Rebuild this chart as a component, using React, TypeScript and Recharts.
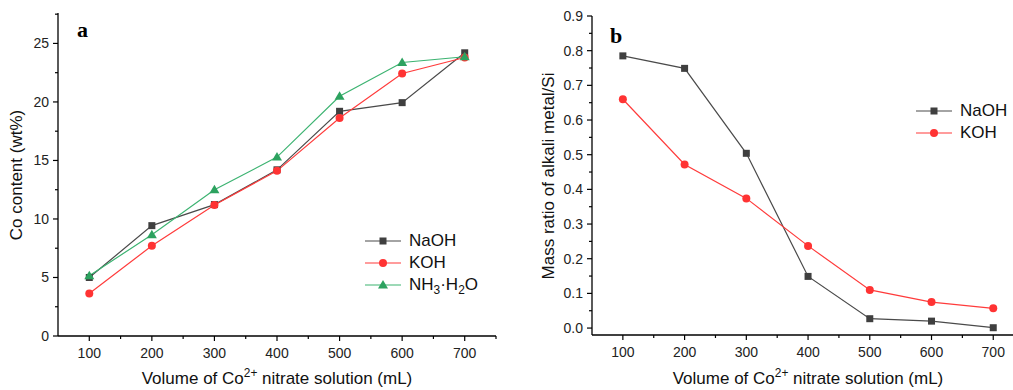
import React from 'react';
import { LineChart, Line, XAxis, YAxis, Legend } from 'recharts';

// values
const volumes = [100, 200, 300, 400, 500, 600, 700];
const coNaOH = [5.0, 9.43, 11.23, 14.2, 19.2, 19.94, 24.2];
const coKOH = [3.63, 7.71, 11.2, 14.11, 18.63, 22.43, 23.8];
const coNH3 = [5.14, 8.66, 12.49, 15.29, 20.49, 23.37, 23.86];
const ratioNaOH = [0.785, 0.749, 0.504, 0.149, 0.027, 0.02, 0.001];
const ratioKOH = [0.66, 0.472, 0.374, 0.237, 0.11, 0.075, 0.057];

const xMajor = [100, 200, 300, 400, 500, 600, 700];
const xMinor = [150, 250, 350, 450, 550, 650, 750];
const coMajor = [0, 5, 10, 15, 20, 25];
const coMinor = [2.5, 7.5, 12.5, 17.5, 22.5, 27.5];
const ratioMajor = [0, 0.1, 0.2, 0.3, 0.4, 0.5, 0.6, 0.7, 0.8, 0.9];
const ratioMinor = [0.05, 0.15, 0.25, 0.35, 0.45, 0.55, 0.65, 0.75, 0.85];

const FONT = '"Liberation Sans", Arial, sans-serif';

const seriesStyle: any = {
  NaOH: { line: '#4a4a4a', fill: '#3f3f3f', shape: 'square' },
  KOH: { line: '#ff3b3b', fill: '#ff3333', shape: 'circle' },
  NH3: { line: '#3cb371', fill: '#2ca25f', shape: 'triangle' },
};

const coData = volumes.map((v, i) => ({ volume: v, NaOH: coNaOH[i], KOH: coKOH[i], NH3: coNH3[i] }));
const ratioData = volumes.map((v, i) => ({ volume: v, NaOH: ratioNaOH[i], KOH: ratioKOH[i] }));

function Marker({ cx, cy, shape, fill }: any) {
  if (cx == null || cy == null) return null;
  if (shape === 'square') return <rect x={cx - 3.5} y={cy - 3.5} width={7} height={7} fill={fill} />;
  if (shape === 'circle') return <circle cx={cx} cy={cy} r={4} fill={fill} />;
  return <polygon points={`${cx},${cy - 5} ${cx + 5},${cy + 3.5} ${cx - 5},${cy + 3.5}`} fill={fill} />;
}

// bottom axis tick: long tick + label for majors, short tick for minors
function XTick({ x, y, payload }: any) {
  const major = xMajor.includes(payload.value);
  return (
    <g>
      <line x1={x} y1={y} x2={x} y2={y + (major ? 5 : 3)} stroke="#000" strokeWidth={1.2} />
      {major && (
        <text x={x} y={y + 22} textAnchor="middle" fontSize={14} fontFamily={FONT} fill="#222">
          {payload.value}
        </text>
      )}
    </g>
  );
}

function makeYTick(majors: number[], fmt: (v: number) => string) {
  return function YTick({ x, y, payload }: any) {
    const major = majors.includes(payload.value);
    return (
      <g>
        <line x1={x} y1={y} x2={x - (major ? 5 : 3)} y2={y} stroke="#000" strokeWidth={1.2} />
        {major && (
          <text x={x - 9} y={y + 5} textAnchor="end" fontSize={14} fontFamily={FONT} fill="#222">
            {fmt(payload.value)}
          </text>
        )}
      </g>
    );
  };
}

const CoTick = makeYTick(coMajor, (v) => String(v));
const RatioTick = makeYTick(ratioMajor, (v) => v.toFixed(1));

function LegendBox({ keys }: any) {
  const label = (k: string) =>
    k === 'NH3' ? (
      <span>NH<sub style={{ fontSize: '0.7em', lineHeight: 0 }}>3</sub>·H<sub style={{ fontSize: '0.7em', lineHeight: 0 }}>2</sub>O</span>
    ) : (
      k
    );
  return (
    <div style={{ fontFamily: FONT, fontSize: 17, color: '#111' }}>
      {keys.map((k: string) => {
        const s = seriesStyle[k];
        return (
          <div key={k} style={{ display: 'flex', alignItems: 'center', height: 22 }}>
            <svg width={38} height={14} style={{ marginRight: 6 }}>
              <line x1={0} y1={7} x2={36} y2={7} stroke={s.line} strokeWidth={1.2} />
              <Marker cx={18} cy={7} shape={s.shape} fill={s.fill} />
            </svg>
            {label(k)}
          </div>
        );
      })}
    </div>
  );
}

function seriesLine(k: string) {
  const s = seriesStyle[k];
  return (
    <Line
      key={k}
      type="linear"
      dataKey={k}
      stroke={s.line}
      strokeWidth={1.2}
      dot={(p: any) => <Marker key={`${k}-${p.index}`} cx={p.cx} cy={p.cy} shape={s.shape} fill={s.fill} />}
      activeDot={false}
      isAnimationActive={false}
    />
  );
}

const sup = { fontSize: '0.7em', verticalAlign: 'super', lineHeight: 0 } as any;

function XTitle({ center }: any) {
  return (
    <div style={{ position: 'absolute', left: center - 250, width: 500, top: 368, textAlign: 'center', fontFamily: FONT, fontSize: 17, lineHeight: '22px', color: '#111' }}>
      Volume of Co<span style={sup}>2+</span> nitrate solution (mL)
    </div>
  );
}

function YTitle({ cx, cy, text }: any) {
  return (
    <div style={{ position: 'absolute', left: cx - 150, top: cy - 11, width: 300, height: 22, lineHeight: '22px', textAlign: 'center', transform: 'rotate(-90deg)', fontFamily: FONT, fontSize: 17, color: '#111', whiteSpace: 'nowrap' }}>
      {text}
    </div>
  );
}

const panelLetter = { position: 'absolute', fontFamily: '"Liberation Serif", serif', fontWeight: 700, fontSize: 22, lineHeight: '22px', color: '#000' } as any;

export default function App() {
  return (
    <div style={{ position: 'absolute', left: 0, top: 0, width: 1013, height: 390, background: '#fff', overflow: 'hidden' }}>
      <div style={{ position: 'absolute', left: 0, top: 0 }}>
        <LineChart width={500} height={390} data={coData} margin={{ top: 13, right: 4, bottom: 0, left: 0 }}>
          <XAxis type="number" dataKey="volume" domain={[50, 750]} ticks={[...xMajor, ...xMinor]} interval={0}
            height={54} tickSize={0} tickMargin={0} tick={<XTick />} tickLine={false} axisLine={{ stroke: '#000', strokeWidth: 1.3 }} />
          <XAxis xAxisId="top" orientation="top" type="number" dataKey="volume" domain={[50, 750]} height={0}
            tick={false} tickLine={false} axisLine={{ stroke: '#333', strokeWidth: 1.3 }} />
          <YAxis type="number" domain={[0, 27.6]} ticks={[...coMajor, ...coMinor]} interval={0} width={58}
            tickSize={0} tickMargin={0} tick={<CoTick />} tickLine={false} axisLine={{ stroke: '#000', strokeWidth: 1.3 }} />
          <YAxis yAxisId="right" orientation="right" type="number" domain={[0, 27.6]} width={0}
            tick={false} tickLine={false} axisLine={{ stroke: '#333', strokeWidth: 1.3 }} />
          <Legend layout="vertical" align="center" verticalAlign="middle"
            wrapperStyle={{ left: 365, top: 230, width: 'auto' }} content={<LegendBox keys={['NaOH', 'KOH', 'NH3']} />} />
          {seriesLine('NaOH')}
          {seriesLine('KOH')}
          {seriesLine('NH3')}
        </LineChart>
      </div>

      <div style={{ position: 'absolute', left: 505, top: 0 }}>
        <LineChart width={508} height={390} data={ratioData} margin={{ top: 16, right: 0, bottom: 0, left: 0 }}>
          <XAxis type="number" dataKey="volume" domain={[50, 732]} ticks={[...xMajor, ...xMinor.slice(0, 6)]} interval={0}
            height={55} tickSize={0} tickMargin={0} tick={<XTick />} tickLine={false} axisLine={{ stroke: '#000', strokeWidth: 1.3 }} />
          <XAxis xAxisId="top" orientation="top" type="number" dataKey="volume" domain={[50, 732]} height={0}
            tick={false} tickLine={false} axisLine={{ stroke: '#333', strokeWidth: 1.3 }} />
          <YAxis type="number" domain={[-0.02, 0.9]} ticks={[...ratioMajor, ...ratioMinor]} interval={0} width={87}
            tickSize={0} tickMargin={0} tick={<RatioTick />} tickLine={false} axisLine={{ stroke: '#000', strokeWidth: 1.3 }} />
          <Legend layout="vertical" align="center" verticalAlign="middle"
            wrapperStyle={{ left: 411, top: 100, width: 'auto' }} content={<LegendBox keys={['NaOH', 'KOH']} />} />
          {seriesLine('NaOH')}
          {seriesLine('KOH')}
        </LineChart>
      </div>

      <div style={{ ...panelLetter, left: 77, top: 19 }}>a</div>
      <div style={{ ...panelLetter, left: 610, top: 25 }}>b</div>
      <XTitle center={277} />
      <XTitle center={808} />
      <YTitle cx={17} cy={175} text="Co content (wt%)" />
      <YTitle cx={549} cy={176} text="Mass ratio of alkali metal/Si" />
    </div>
  );
}
